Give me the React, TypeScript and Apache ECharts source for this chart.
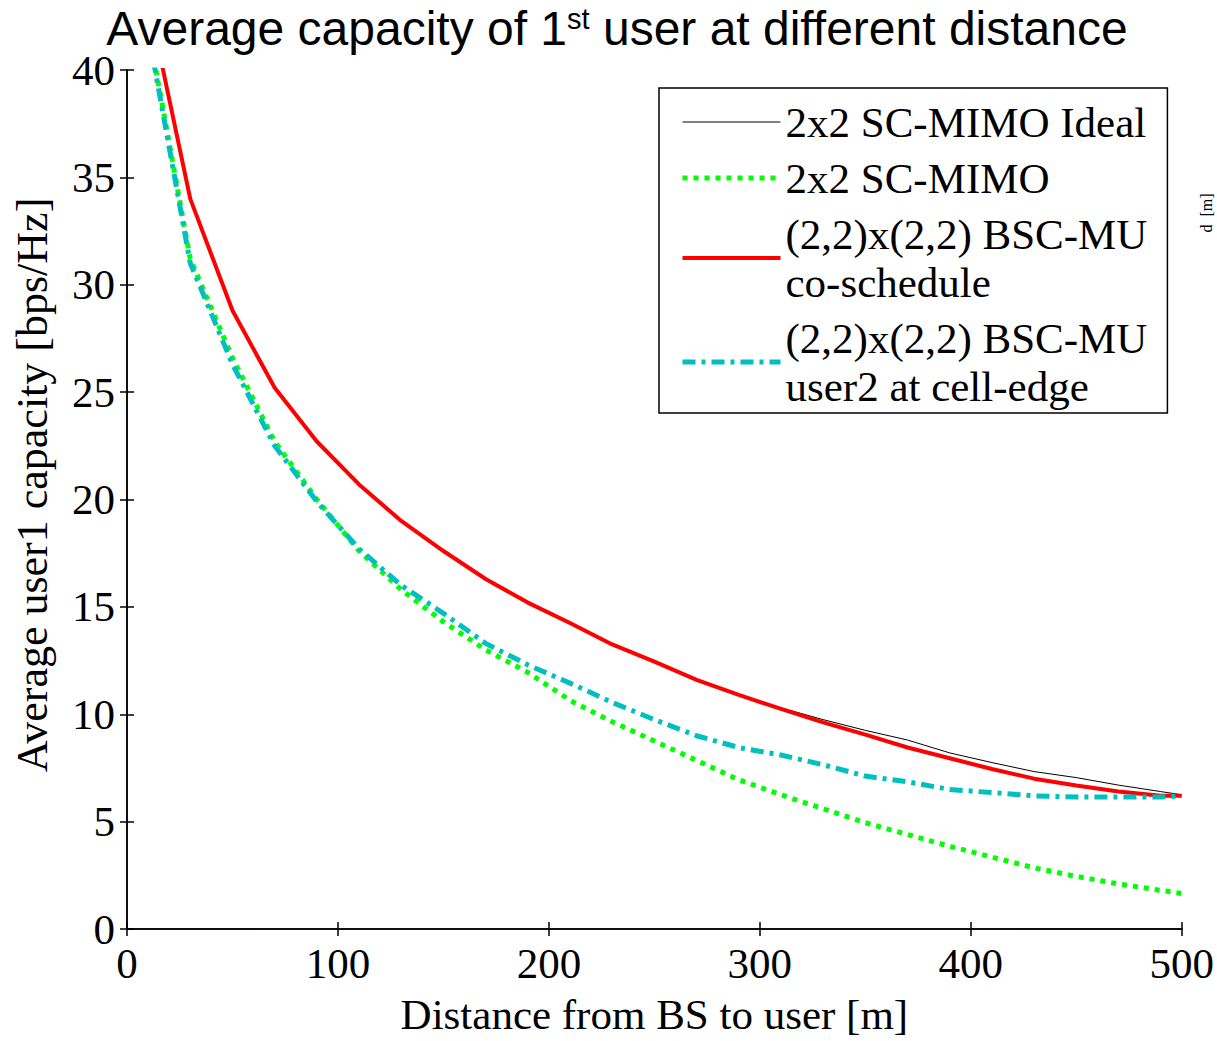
import React, { useEffect, useRef } from "react";
import * as echarts from "echarts";

const distances = [10, 30, 50, 70, 90, 110, 130, 150, 170, 190, 210, 230, 250, 270, 290, 310, 330, 350, 370, 390, 410, 430, 450, 470, 490, 500];
const idealSC = [43.3, 34.0, 28.8, 25.2, 22.7, 20.7, 19.0, 17.6, 16.3, 15.2, 14.25, 13.25, 12.45, 11.6, 10.9, 10.3, 9.75, 9.25, 8.8, 8.2, 7.75, 7.33, 7.05, 6.7, 6.4, 6.25];
const sc = [42.0, 31.2, 26.6, 22.7, 20.0, 17.6, 15.8, 14.3, 13.0, 11.95, 10.65, 9.65, 8.75, 7.85, 6.95, 6.25, 5.6, 4.95, 4.4, 3.85, 3.35, 2.85, 2.45, 2.1, 1.8, 1.65];
const coSchedule = [43.3, 34.0, 28.8, 25.2, 22.7, 20.7, 19.0, 17.6, 16.3, 15.2, 14.25, 13.25, 12.45, 11.6, 10.9, 10.25, 9.62, 9.05, 8.45, 7.95, 7.45, 7.0, 6.68, 6.4, 6.2, 6.2];
const cellEdge = [41.8, 31.0, 26.3, 22.5, 19.9, 17.7, 16.0, 14.7, 13.3, 12.3, 11.45, 10.55, 9.75, 9.0, 8.45, 8.1, 7.65, 7.12, 6.85, 6.5, 6.35, 6.2, 6.15, 6.15, 6.15, 6.2];

const seriesNames = [
  "2x2 SC-MIMO Ideal",
  "2x2 SC-MIMO",
  "(2,2)x(2,2) BSC-MU\nco-schedule",
  "(2,2)x(2,2) BSC-MU\nuser2 at cell-edge",
];
const seriesColors = ["#000000", "#00FF00", "#FF0000", "#00BFBF"];
const seriesWidths = [1, 5, 4, 5];
const seriesDashes: any[] = ["solid", [5, 6], "solid", [13, 6, 4, 6]];
const seriesValues = [idealSC, sc, coSchedule, cellEdge];

const SERIF = '"Times New Roman", "Liberation Serif", serif';
const SANS = 'Arial, "Liberation Sans", sans-serif';

const pairs = (ys: number[]) => distances.map((x, i) => [x, ys[i]]);

export default function App() {
  const ref = useRef<HTMLDivElement>(null);
  useEffect(() => {
    if (!ref.current) return;
    const chart = echarts.init(ref.current, undefined, { renderer: "svg" });
    const axisLine = { show: true, lineStyle: { color: "#000", width: 1.5 } };
    const tick = { show: true, inside: true, length: 7, lineStyle: { color: "#000", width: 1.5 } };
    chart.setOption({
      animation: false,
      backgroundColor: "#fff",
      grid: { left: 127, right: 33, top: 70, bottom: 103, containLabel: false },
      graphic: [
        {
          type: "text",
          x: 617,
          y: 28,
          style: {
            text: "{a|Average capacity of 1}{s|st}{a| user at different distance}",
            textAlign: "center",
            textVerticalAlign: "middle",
            fill: "#000",
            rich: {
              a: { fontFamily: SANS, fontSize: 48, fill: "#000" },
              s: { fontFamily: SANS, fontSize: 29, fill: "#000", verticalAlign: "top", padding: [0, 0, 16, 0] },
            },
          },
        },
        {
          type: "text",
          x: 32,
          y: 485,
          rotation: Math.PI / 2,
          style: {
            text: "Average user1 capacity [bps/Hz]",
            font: `44px ${SERIF}`,
            fill: "#000",
            textAlign: "center",
            textVerticalAlign: "middle",
          },
        },
        {
          type: "text",
          x: 1206,
          y: 213,
          rotation: Math.PI / 2,
          style: {
            text: "d  [m]",
            font: `16px ${SERIF}`,
            fill: "#000",
            textAlign: "center",
            textVerticalAlign: "middle",
          },
        },
      ],
      legend: {
        orient: "vertical",
        left: 659,
        top: 88,
        data: seriesNames.map((name, i) => ({
          name,
          itemStyle: { opacity: 0 },
          lineStyle: { color: seriesColors[i], width: seriesWidths[i], type: seriesDashes[i] },
        })),
        selectedMode: false,
        backgroundColor: "#fff",
        borderColor: "#000",
        borderWidth: 1.5,
        borderRadius: 0,
        padding: [10, 20, 3, 21],
        itemWidth: 98,
        itemHeight: 20,
        itemGap: 8,
        itemTextGap: 15,
        align: "left",
        textStyle: { fontFamily: SERIF, fontSize: 43, lineHeight: 48, color: "#000" },
      },
      xAxis: [
        {
          type: "value",
          min: 0,
          max: 500,
          interval: 100,
          name: "Distance from BS to user [m]",
          nameLocation: "middle",
          nameGap: 64,
          nameTextStyle: { fontFamily: SERIF, fontSize: 43, color: "#000" },
          axisLine,
          axisTick: tick,
          axisLabel: { fontFamily: SERIF, fontSize: 43, color: "#000", margin: 13 },
          splitLine: { show: false },
        },
        {
          type: "value",
          position: "top",
          min: 0,
          max: 500,
          interval: 100,
          axisLine,
          axisTick: tick,
          axisLabel: { show: false },
          splitLine: { show: false },
        },
      ],
      yAxis: [
        {
          type: "value",
          min: 0,
          max: 40,
          interval: 5,
          axisLine,
          axisTick: tick,
          axisLabel: { fontFamily: SERIF, fontSize: 43, color: "#000", margin: 12 },
          splitLine: { show: false },
        },
        {
          type: "value",
          position: "right",
          min: 0,
          max: 40,
          interval: 5,
          axisLine,
          axisTick: tick,
          axisLabel: { show: false },
          splitLine: { show: false },
        },
      ],
      series: seriesNames.map((name, i) => ({
        name,
        type: "line",
        data: pairs(seriesValues[i]),
        symbol: "none",
        lineStyle: { color: seriesColors[i], width: seriesWidths[i], type: seriesDashes[i], cap: "butt" },
        itemStyle: { color: seriesColors[i] },
      })),
    });
    return () => chart.dispose();
  }, []);
  return (
    <div
      ref={ref}
      style={{ position: "absolute", left: 0, top: 0, width: 1217, height: 1041, background: "#fff" }}
    />
  );
}
